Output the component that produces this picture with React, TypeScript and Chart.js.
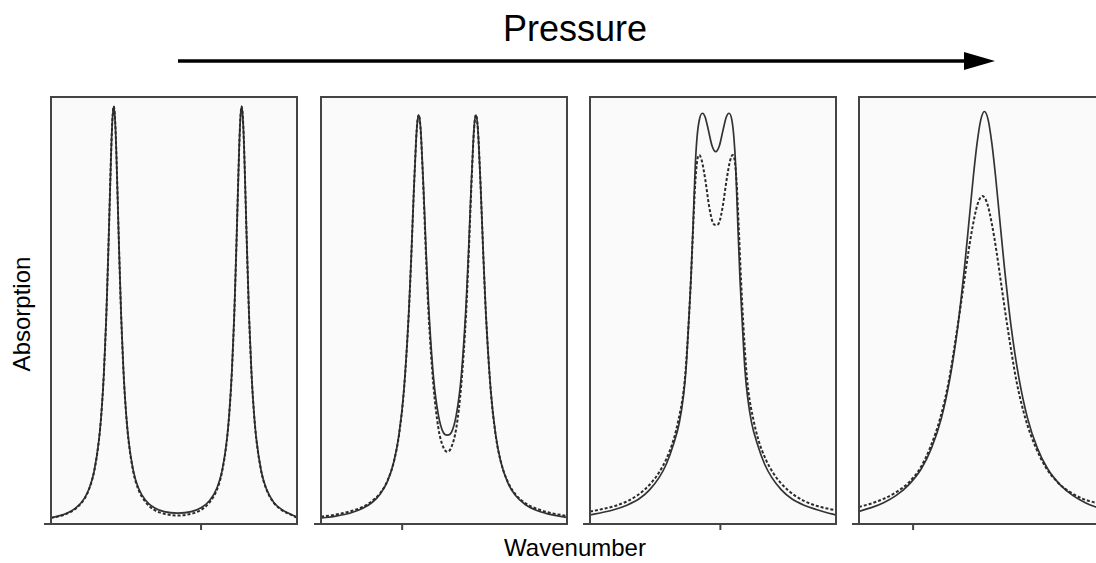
import React, { useEffect, useRef } from "react";
import { Chart, registerables } from "chart.js";

Chart.register(...registerables);

const FONT = '"Liberation Sans", Arial, sans-serif';

// ---------- Data (x: 0–100 across each panel, y: 0–100 absorption) ----------
const p1X = [0, 5, 10, 13.5, 15.5, 17.5, 19.5, 20.5, 21.5, 22.5, 23.5, 24.5, 25, 25.5, 26, 26.5, 27.5, 28.5, 29.5, 30.5, 31.5, 33.5, 35.5, 38.5, 42, 46, 51.5, 57, 61, 64.5, 67.5, 69.5, 71.5, 72.5, 73.5, 74.5, 75.5, 76.5, 77, 77.5, 78, 78.5, 79.5, 80.5, 81.5, 82.5, 83.5, 85.5, 87.5, 90.5, 94, 97, 100];
const p1Solid = [1.45, 2.2, 3.7, 5.95, 8.3, 12.25, 19.75, 26.1, 35.4, 49.0, 67.8, 88.0, 95.1, 97.8, 95.2, 88.1, 67.8, 49.1, 35.5, 26.2, 19.9, 12.4, 8.5, 5.5, 3.8, 2.9, 2.55, 2.9, 3.8, 5.5, 8.5, 12.4, 19.9, 26.2, 35.5, 49.1, 67.8, 88.1, 95.2, 97.8, 95.1, 88.0, 67.8, 49.0, 35.4, 26.1, 19.8, 12.3, 8.3, 5.1, 3.3, 2.4, 1.6];
const p1Dashed = [1.4, 2.1, 3.6, 5.8, 8.2, 12.2, 19.7, 26.0, 35.3, 49.0, 67.8, 88.0, 95.1, 97.8, 95.2, 88.1, 67.8, 49.0, 35.3, 26.0, 19.6, 12.1, 8.1, 5.1, 3.3, 2.4, 2.0, 2.4, 3.3, 5.1, 8.1, 12.1, 19.6, 26.0, 35.3, 49.0, 67.8, 88.1, 95.2, 97.8, 95.1, 88.0, 67.8, 49.0, 35.3, 26.0, 19.7, 12.2, 8.2, 5.0, 3.2, 2.3, 1.5];

const p2X = [0, 6, 12, 17, 21, 24, 27, 29.7, 31.7, 33.7, 35.7, 36.7, 37.7, 38.7, 39.2, 39.7, 40.2, 40.7, 41.7, 42.7, 43.7, 45.7, 47.7, 49.7, 51.35, 53, 55, 57, 59, 60, 61, 62, 62.5, 63, 63.5, 64, 65, 66, 67, 69, 71, 73, 76, 79, 83, 88, 94, 100];
const p2Solid = [1.37, 1.84, 2.59, 3.67, 5.15, 6.96, 9.97, 14.77, 20.92, 31.39, 49.7, 62.78, 77.5, 90.35, 94.32, 95.79, 94.55, 90.82, 78.44, 64.21, 51.67, 34.55, 25.58, 21.45, 20.8, 21.45, 25.58, 34.55, 51.67, 64.21, 78.44, 90.82, 94.55, 95.79, 94.32, 90.35, 77.5, 62.78, 49.7, 31.39, 20.92, 14.77, 9.58, 6.73, 4.58, 3.11, 2.13, 1.56];
const p2Dashed = [1.7, 2.2, 3.0, 4.0, 5.5, 7.2, 10.1, 14.8, 20.8, 31.2, 49.5, 62.6, 77.4, 90.3, 94.3, 95.8, 94.4, 90.4, 77.3, 62.5, 49.5, 32.5, 22.5, 18.0, 16.9, 18.0, 22.5, 32.5, 49.5, 62.5, 77.3, 90.4, 94.4, 95.8, 94.3, 90.3, 77.4, 62.6, 49.5, 31.2, 20.8, 14.8, 9.8, 7.0, 4.9, 3.5, 2.5, 1.9];

const p3SolidX = [0, 5, 10, 15, 20, 24.2, 28, 31, 34, 36.3, 38, 39, 40.1, 41, 41.9, 42.8, 43.5, 44.5, 45.7, 46.8, 48.1, 49.6, 51.1, 52.6, 54.1, 55.4, 56.5, 57.6, 58.5, 59.2, 60.1, 61.0, 61.9, 63.0, 64.0, 65.7, 68.0, 71.0, 74.0, 77.8, 82, 87, 92, 96, 100];
const p3SolidY = [2.1, 2.7, 3.4, 4.4, 5.9, 8.0, 10.8, 14.0, 18.8, 23.7, 30, 36, 47.1, 57, 70, 84, 90.5, 94.8, 96.2, 95.3, 92.3, 88.6, 87.2, 88.6, 92.3, 95.3, 96.2, 94.8, 90.5, 84, 70, 57, 47.1, 36, 30, 23.7, 18.8, 14.0, 10.8, 8.0, 5.9, 4.4, 3.4, 2.7, 2.1];
const p3DashX = [0, 5, 10, 15, 19, 22.1, 25, 28, 31, 34, 36, 38, 39, 40.1, 41, 41.9, 42.8, 43.6, 44.4, 45.4, 46.9, 48.4, 49.9, 51.2, 52.5, 54, 55.5, 57, 58, 58.8, 59.6, 60.5, 61.4, 62.3, 63.4, 64.4, 66.4, 68.4, 71.4, 74.4, 77.4, 80.3, 83.4, 87.4, 92.4, 97.4, 100];
const p3DashY = [2.9, 3.5, 4.2, 5.3, 6.6, 8.0, 9.7, 12.0, 15.2, 19.8, 24.5, 31, 37, 47, 57, 69, 80, 85.2, 86.4, 85.2, 80.5, 74.5, 70.6, 70.0, 70.6, 74.5, 80.5, 85.2, 86.4, 85.2, 80, 69, 57, 47, 37, 31, 24.5, 19.8, 15.2, 12.0, 9.7, 8.0, 6.6, 5.3, 4.2, 3.5, 3.2];

const p4SolidX = [0, 5, 10, 15, 20, 25.4, 29.5, 33.5, 37, 40.2, 43, 45, 46.5, 48, 49.5, 51, 52.5, 54, 55.5, 57, 59, 61.8, 65, 68.5, 72.5, 76.6, 82, 87, 92, 96, 100];
const p4SolidY = [2.96, 3.83, 5.0, 6.65, 9.05, 13.0, 17.8, 24.8, 34.2, 46.4, 60.75, 72.6, 81.5, 89.2, 94.65, 96.6, 94.65, 89.2, 81.5, 72.6, 60.75, 46.4, 34.2, 24.8, 17.8, 13.0, 9.05, 6.65, 5.0, 4.04, 3.3];
const p4DashX = [0, 5, 10, 15, 20, 25, 29, 33, 36.5, 40, 42.5, 44.5, 46.3, 48.2, 50.2, 52.2, 54.1, 55.9, 57.9, 60.4, 64, 67.6, 71.8, 76, 81, 86, 91, 96, 100];
const p4DashY = [4.0, 4.8, 5.9, 7.4, 9.6, 13.2, 18.0, 24.8, 33.5, 46, 55.8, 63.8, 70, 74.9, 76.8, 74.9, 70, 63.8, 55.8, 46, 33.5, 24.8, 18.0, 13.2, 9.6, 7.4, 5.9, 5.0, 4.3];

// single x-axis tick position per panel
const xTickValues = [61, 33, 53, 22];

// ---------- Layout ----------
const PANEL_LEFTS = [51, 321, 590, 859];
const PANEL_TOP = 97;
const PANEL_W = 246;
const PANEL_H = 427;
const PAD = { left: 10, right: 4, top: 4, bottom: 10 };

const panels = [
  { sx: p1X, sy: p1Solid, dx: p1X, dy: p1Dashed, tick: xTickValues[0] },
  { sx: p2X, sy: p2Solid, dx: p2X, dy: p2Dashed, tick: xTickValues[1] },
  { sx: p3SolidX, sy: p3SolidY, dx: p3DashX, dy: p3DashY, tick: xTickValues[2] },
  { sx: p4SolidX, sy: p4SolidY, dx: p4DashX, dy: p4DashY, tick: xTickValues[3] },
];

const zip = (xs: number[], ys: number[]) => xs.map((x, i) => ({ x, y: ys[i] }));

const framePlugin = {
  id: "panelFrame",
  beforeDraw(chart: any) {
    const { ctx, chartArea: a } = chart;
    ctx.save();
    ctx.fillStyle = "#fafafa";
    ctx.fillRect(a.left, a.top, a.right - a.left, a.bottom - a.top);
    ctx.restore();
  },
  afterDraw(chart: any, _args: any, opts: any) {
    const { ctx, chartArea: a, scales } = chart;
    ctx.save();
    ctx.strokeStyle = "#444444";
    ctx.lineWidth = 2;
    ctx.strokeRect(a.left, a.top, a.right - a.left, a.bottom - a.top);
    // y-axis tick at 0 (pointing left)
    const y0 = scales.y.getPixelForValue(0);
    ctx.beginPath();
    ctx.moveTo(a.left - 7, y0);
    ctx.lineTo(a.left, y0);
    ctx.stroke();
    // x-axis tick (pointing down)
    const xt = scales.x.getPixelForValue(opts.tick);
    ctx.beginPath();
    ctx.moveTo(xt, a.bottom);
    ctx.lineTo(xt, a.bottom + 6);
    ctx.stroke();
    ctx.restore();
  },
};

function Panel({ index }: { index: number }) {
  const ref = useRef<HTMLCanvasElement | null>(null);
  useEffect(() => {
    const p = panels[index];
    const chart = new Chart(ref.current as HTMLCanvasElement, {
      type: "line",
      data: {
        datasets: [
          {
            data: zip(p.dx, p.dy),
            borderColor: "#2a2a2a",
            borderWidth: 2,
            borderDash: [3, 2],
            pointRadius: 0,
            cubicInterpolationMode: "monotone",
            fill: false,
          },
          {
            data: zip(p.sx, p.sy),
            borderColor: "#333333",
            borderWidth: 1.7,
            pointRadius: 0,
            cubicInterpolationMode: "monotone",
            fill: false,
          },
        ],
      },
      options: {
        responsive: false,
        animation: false,
        events: [],
        layout: { padding: PAD },
        plugins: {
          legend: { display: false },
          tooltip: { enabled: false },
          panelFrame: { tick: p.tick },
        } as any,
        scales: {
          x: { type: "linear", min: 0, max: 100, display: false },
          y: { type: "linear", min: 0, max: 100, display: false },
        },
      },
      plugins: [framePlugin],
    });
    return () => chart.destroy();
  }, [index]);
  return (
    <canvas
      ref={ref}
      width={PANEL_W + PAD.left + PAD.right}
      height={PANEL_H + PAD.top + PAD.bottom}
      style={{
        position: "absolute",
        left: PANEL_LEFTS[index] - PAD.left,
        top: PANEL_TOP - PAD.top,
        width: PANEL_W + PAD.left + PAD.right,
        height: PANEL_H + PAD.top + PAD.bottom,
      }}
    />
  );
}

export default function App() {
  return (
    <div
      style={{
        position: "fixed",
        left: 0,
        top: 0,
        width: 1096,
        height: 563,
        overflow: "hidden",
        background: "#ffffff",
        fontFamily: FONT,
        color: "#000",
      }}
    >
      <div
        style={{
          position: "absolute",
          left: 575,
          top: 11,
          transform: "translateX(-50%)",
          fontSize: 36,
          lineHeight: "36px",
          whiteSpace: "nowrap",
        }}
      >
        Pressure
      </div>
      <svg width={1096} height={90} style={{ position: "absolute", left: 0, top: 0 }}>
        <line x1={178} y1={61} x2={968} y2={61} stroke="#000" strokeWidth={3.5} />
        <polygon points="964,52 995,61 964,70" fill="#000" />
      </svg>
      {panels.map((_, i) => (
        <Panel key={i} index={i} />
      ))}
      <div
        style={{
          position: "absolute",
          left: 575,
          top: 536,
          transform: "translateX(-50%)",
          fontSize: 24,
          lineHeight: "24px",
          whiteSpace: "nowrap",
        }}
      >
        Wavenumber
      </div>
      <div
        style={{
          position: "absolute",
          left: 22,
          top: 314,
          transform: "translate(-50%, -50%) rotate(-90deg)",
          fontSize: 24,
          lineHeight: "24px",
          whiteSpace: "nowrap",
        }}
      >
        Absorption
      </div>
    </div>
  );
}
